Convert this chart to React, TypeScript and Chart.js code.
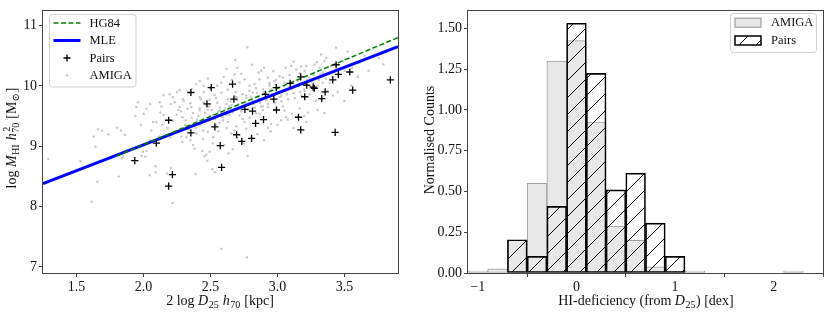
import React, { useEffect, useRef } from 'react';
import { Chart, registerables } from 'chart.js';

Chart.register(...registerables);

const FONT = "'Liberation Serif', 'DejaVu Serif', serif";
const TICK_SIZE = 14;
const LABEL_SIZE = 14;
const LEGEND_SIZE = 12.5;

// ---------------- Left panel data ----------------
const amigaPoints: [number, number][] = [
  [1.29, 8.79], [1.53, 8.75], [1.656, 8.41], [1.614, 8.08], [1.815, 8.5], [1.84, 8.8], [2.014, 8.83], [2.046, 8.52],
  [2.089, 8.67], [2.089, 8.57], [2.175, 8.55], [2.205, 8.64], [2.216, 8.06], [2.389, 8.54], [2.456, 8.83], [2.476, 8.76],
  [2.514, 8.62], [2.533, 8.57], [2.581, 7.3], [2.635, 8.88], [2.772, 7.16], [2.777, 8.84],
  [1.629, 9.16], [1.661, 9.28], [1.691, 9.26], [1.642, 8.99], [1.738, 9.2], [1.803, 9.31], [1.832, 9.26], [1.862, 9.19],
  [1.947, 9.65], [1.94, 9.5], [2.002, 9.54], [1.996, 8.91], [2.022, 8.92], [1.985, 8.84], [2.071, 9.4], [2.059, 9.26],
  [2.096, 9.4], [2.126, 9.56], [2.151, 9.52], [2.116, 9.16], [2.134, 9.66], [2.203, 9.7], [2.248, 9.52], [2.27, 9.65],
  [2.29, 9.48], [2.315, 9.43], [2.283, 9.16], [2.29, 9.07], [2.382, 8.96], [2.37, 9.02], [2.394, 9.21], [2.444, 9.12],
  [2.419, 9.59], [2.357, 9.65], [1.847, 8.83],
  [2.439, 8.92], [2.469, 8.86], [2.494, 8.91], [2.667, 8.95], [2.605, 9.02], [2.518, 9.05], [2.481, 9.24], [2.444, 9.26],
  [2.593, 9.43], [2.568, 9.39], [2.63, 9.4], [2.68, 9.26], [2.693, 9.33], [2.655, 9.21], [2.767, 9.29], [2.755, 9.4],
  [2.792, 9.47], [2.866, 9.54], [2.928, 9.3], [2.953, 9.37], [3.028, 9.43], [3.077, 9.44], [3.065, 9.48], [3.11, 9.54],
  [3.165, 9.63], [3.227, 9.56], [3.215, 9.4], [2.568, 9.59], [2.618, 9.52], [2.667, 9.56], [2.717, 9.51], [2.729, 9.59],
  [2.531, 9.45], [2.494, 9.51], [2.419, 9.35], [2.456, 9.43], [2.928, 9.65], [2.978, 9.61], [2.891, 9.66], [3.053, 9.59],
  [3.438, 10.63], [3.525, 10.57], [3.756, 10.46], [3.791, 10.36], [3.326, 10.52], [3.364, 10.46], [3.351, 10.41], [3.294, 10.39],
  [3.276, 10.35], [3.215, 10.33], [3.177, 10.32], [3.314, 10.3], [3.401, 10.33], [3.487, 10.41], [3.5, 10.25], [3.239, 10.14],
  [3.338, 10.05], [3.375, 9.92], [3.202, 9.92], [3.239, 9.86], [3.289, 9.75], [3.413, 9.84], [3.5, 9.75], [3.202, 10.25],
  [3.165, 10.21],
  [2.775, 10.64], [2.685, 10.43], [2.68, 10.19], [2.879, 10.25], [2.928, 10.14], [3.015, 10.16], [3.103, 10.33], [3.14, 10.27],
  [2.866, 10.11], [2.829, 10.03], [2.792, 10.0], [2.755, 10.11], [2.717, 10.05], [2.63, 9.94], [2.581, 9.89], [2.531, 9.85],
  [2.494, 9.77], [2.449, 9.73], [2.419, 9.81], [2.767, 9.84], [2.817, 9.89], [2.854, 9.75], [2.891, 9.94], [2.693, 9.81],
  [3.028, 9.84], [3.053, 10.05], [2.978, 10.08], [2.941, 10.03],
  [2.121, 9.73], [2.195, 9.86], [2.27, 9.93], [2.294, 9.78], [2.394, 10.03], [2.233, 9.73], [1.959, 9.73], [2.022, 9.62], [2.22, 9.81],
  [2.31, 9.35], [2.28, 9.58], [2.33, 9.62], [2.3, 9.75], [2.34, 9.28], [2.36, 9.47], [2.37, 9.55], [2.35, 9.71], [2.38, 9.38],
  [2.41, 9.5], [2.42, 9.63], [2.4, 9.44], [2.43, 9.78], [2.39, 9.3], [2.46, 9.55], [2.47, 9.68], [2.44, 9.4], [2.48, 9.6],
  [2.45, 9.9], [2.51, 9.6], [2.52, 9.52], [2.5, 9.7], [2.53, 9.45], [2.49, 9.66], [2.54, 9.35], [2.56, 9.58], [2.57, 9.64],
  [2.55, 9.72], [2.58, 9.5], [2.54, 9.8], [2.61, 9.62], [2.62, 9.7], [2.6, 9.55], [2.63, 9.78], [2.59, 9.48], [2.64, 9.66],
  [2.66, 9.68], [2.67, 9.6], [2.65, 9.74], [2.68, 9.82], [2.64, 9.52], [2.71, 9.7], [2.72, 9.64], [2.7, 9.76], [2.73, 9.58],
  [2.69, 9.9], [2.74, 9.45], [2.76, 9.72], [2.77, 9.8], [2.75, 9.66], [2.78, 9.6], [2.74, 9.86], [2.81, 9.76], [2.82, 9.7],
  [2.8, 9.82], [2.83, 9.64], [2.79, 9.92], [2.84, 9.55], [2.86, 9.8], [2.87, 9.72], [2.85, 9.88], [2.88, 9.66], [2.84, 9.96],
  [2.91, 9.82], [2.92, 9.76], [2.9, 9.9], [2.93, 9.7], [2.89, 9.6], [2.94, 10.0], [2.96, 9.86], [2.97, 9.78], [2.95, 9.94],
  [2.98, 9.72], [2.94, 10.05], [3.01, 9.9], [3.02, 9.82], [3.0, 9.98], [3.03, 9.74], [2.99, 10.1], [3.04, 9.66], [3.06, 9.92],
  [3.07, 9.86], [3.05, 10.0], [3.08, 9.78], [3.04, 10.14], [3.11, 9.96], [3.12, 9.88], [3.1, 10.04], [3.13, 9.8], [3.09, 10.18],
  [3.16, 10.0], [3.17, 9.9], [3.15, 10.08], [3.18, 9.84], [3.21, 10.02], [3.22, 10.1], [3.2, 9.95], [3.26, 10.06], [3.27, 10.18],
  [3.25, 9.98], [3.31, 10.1], [3.32, 10.2], [3.3, 10.0], [3.36, 10.12], [3.34, 10.22], [3.41, 10.15], [3.39, 10.05], [3.46, 10.2],
  [3.56, 10.3], [3.61, 10.38],
  [2.18, 9.3], [2.22, 9.42], [2.25, 9.25], [2.14, 9.35], [2.2, 9.15], [2.26, 9.6], [2.32, 9.15], [2.35, 9.1], [2.1, 9.05], [2.05, 9.1],
  [2.36, 9.95], [2.42, 10.08], [2.48, 10.12], [2.55, 10.0], [2.6, 10.15], [2.62, 10.28], [2.7, 10.3], [2.73, 10.2], [2.58, 10.05],
  [2.66, 10.1], [2.81, 10.35], [2.86, 10.22], [2.9, 10.3], [2.97, 10.24], [3.06, 10.3], [3.12, 10.4], [2.5, 9.95], [2.45, 10.0],
  [2.62, 9.3], [2.7, 9.15], [2.85, 9.2], [2.95, 9.25], [3.0, 9.35], [3.12, 9.3], [3.2, 9.5], [3.3, 9.6], [3.35, 9.55], [3.45, 9.9],
  [3.55, 10.0], [3.6, 10.15], [3.68, 10.25], [3.65, 10.5], [2.75, 9.05], [2.9, 9.1], [2.52, 9.15], [2.56, 9.25], [2.25, 9.9],
  [2.15, 9.85], [2.05, 9.7], [1.98, 9.35],
];

const pairsPoints: [number, number][] = [
  [1.935, 8.76], [2.096, 9.05], [2.188, 9.43], [2.354, 9.89], [2.354, 9.22], [2.474, 9.7], [2.506, 9.97], [2.533, 9.32],
  [2.573, 9.01], [2.665, 10.03], [2.675, 9.78], [2.695, 9.19], [2.734, 9.08], [2.757, 9.61], [2.807, 9.13], [2.814, 9.58],
  [2.837, 9.38], [2.896, 9.44], [2.911, 9.86], [2.973, 9.78], [2.991, 9.97], [2.993, 9.6], [3.095, 10.04], [3.157, 9.48],
  [3.174, 10.15], [3.174, 9.27], [3.204, 9.82], [3.219, 10.01], [3.267, 9.98], [3.275, 9.96], [3.331, 9.79], [3.356, 9.9],
  [3.413, 10.1], [3.431, 9.23], [3.438, 10.35], [3.455, 10.19], [3.54, 10.23], [3.562, 9.93], [3.843, 10.1],
  [2.216, 8.53], [2.188, 8.34], [2.583, 8.65],
];

const mleX = [1.25, 3.9];
const mleY = [8.38, 10.65];
const hg84X = [1.8, 3.9];
const hg84Y = [8.84, 10.8];

const leftXRange = [1.25, 3.9];
const leftYRange = [6.9, 11.25];
const leftXTicks = [1.5, 2.0, 2.5, 3.0, 3.5];
const leftYTicks = [7, 8, 9, 10, 11];

// ---------------- Right panel data ----------------
const amigaCenters = [-1.0, -0.8, -0.6, -0.4, -0.2, 0.0, 0.2, 0.4, 0.6, 0.8, 1.0, 1.2, 2.2];
const amigaHist = [0.0125, 0.025, 0.2, 0.55, 1.3, 1.425, 0.925, 0.2875, 0.2, 0.0375, 0.0125, 0.0125, 0.0125];
const pairsCenters = [-0.6, -0.4, -0.2, 0.0, 0.2, 0.4, 0.6, 0.8, 1.0];
const pairsHist = [0.204, 0.102, 0.408, 1.531, 1.224, 0.51, 0.612, 0.306, 0.102];

const rightXRange = [-1.1, 2.5];
const rightYRange = [0, 1.61];
const rightXTicks = [-1, 0, 1, 2];
const rightYTicks = [0, 0.25, 0.5, 0.75, 1.0, 1.25, 1.5];

// ---------------- helpers ----------------
type Part = { t: string; it?: boolean; sub?: string; sup?: string };

const fontStr = (size: number, it?: boolean) => `${it ? 'italic ' : ''}${size}px ${FONT}`;

function drawRich(ctx: CanvasRenderingContext2D, parts: Part[], cx: number, cy: number, vertical: boolean, size: number) {
  const ss = size * 0.72;
  ctx.save();
  ctx.translate(cx, cy);
  if (vertical) ctx.rotate(-Math.PI / 2);
  ctx.fillStyle = '#111';
  ctx.textBaseline = 'alphabetic';
  ctx.textAlign = 'left';
  const widths = parts.map((p) => {
    ctx.font = fontStr(size, p.it);
    const w = ctx.measureText(p.t).width;
    ctx.font = fontStr(ss);
    const ws = Math.max(p.sub ? ctx.measureText(p.sub).width : 0, p.sup ? ctx.measureText(p.sup).width : 0);
    return [w, ws];
  });
  const total = widths.reduce((a, [w, ws]) => a + w + (ws ? ws + 1 : 0), 0);
  let x = -total / 2;
  const y = size * 0.33;
  parts.forEach((p, i) => {
    const [w, ws] = widths[i];
    ctx.font = fontStr(size, p.it);
    ctx.fillText(p.t, x, y);
    x += w;
    if (ws) {
      ctx.font = fontStr(ss);
      const xo = x + (p.it ? 0.5 : 0);
      if (p.sub) ctx.fillText(p.sub, xo, y + size * 0.22);
      if (p.sup) ctx.fillText(p.sup, xo + 1, y - size * 0.42);
      x += ws + 1;
    }
  });
  ctx.restore();
}

function makeAxis(range: number[], ticks: number[], fmt: (v: number) => string, isX: boolean, size: number) {
  return {
    type: 'linear' as const,
    min: range[0],
    max: range[1],
    afterBuildTicks: (s: any) => {
      s.ticks = ticks.map((v) => ({ value: v }));
    },
    afterFit: (s: any) => {
      if (isX) s.height = size;
      else s.width = size;
    },
    grid: { drawOnChartArea: false, drawTicks: true, tickLength: 4, color: '#444', lineWidth: 1 },
    border: { display: false },
    ticks: {
      font: { family: FONT, size: TICK_SIZE },
      color: '#111',
      padding: 2,
      maxRotation: 0,
      autoSkip: false,
      callback: (v: any) => fmt(Number(v)),
    },
  };
}

const framePlugin = {
  id: 'frame',
  afterDatasetsDraw(chart: any) {
    const { ctx, chartArea: a } = chart;
    ctx.save();
    ctx.strokeStyle = '#444';
    ctx.lineWidth = 1;
    const l = Math.round(a.left) - 0.5;
    const t = Math.round(a.top) + 0.5;
    const r = Math.round(a.right) + 0.5;
    const b = Math.round(a.bottom) + 0.5;
    ctx.strokeRect(l, t, r - l, b - t);
    ctx.restore();
  },
};

function roundRect(ctx: CanvasRenderingContext2D, x: number, y: number, w: number, h: number, r: number) {
  ctx.beginPath();
  ctx.moveTo(x + r, y);
  ctx.lineTo(x + w - r, y);
  ctx.arcTo(x + w, y, x + w, y + r, r);
  ctx.lineTo(x + w, y + h - r);
  ctx.arcTo(x + w, y + h, x + w - r, y + h, r);
  ctx.lineTo(x + r, y + h);
  ctx.arcTo(x, y + h, x, y + h - r, r);
  ctx.lineTo(x, y + r);
  ctx.arcTo(x, y, x + r, y, r);
  ctx.closePath();
}

function legendFrame(ctx: CanvasRenderingContext2D, x: number, y: number, w: number, h: number) {
  roundRect(ctx, x, y, w, h, 3);
  ctx.fillStyle = 'rgba(255,255,255,0.85)';
  ctx.fill();
  ctx.strokeStyle = '#d0d0d0';
  ctx.lineWidth = 1;
  ctx.stroke();
}

function legendText(ctx: CanvasRenderingContext2D, t: string, x: number, y: number) {
  ctx.font = fontStr(LEGEND_SIZE);
  ctx.fillStyle = '#111';
  ctx.textBaseline = 'middle';
  ctx.textAlign = 'left';
  ctx.fillText(t, x, y + 0.5);
}

function makeHatch(ctx: CanvasRenderingContext2D) {
  const s = 17;
  const c = document.createElement('canvas');
  c.width = s;
  c.height = s;
  const g = c.getContext('2d')!;
  g.strokeStyle = '#000';
  g.lineWidth = 1;
  g.beginPath();
  g.moveTo(-2, s + 2);
  g.lineTo(s + 2, -2);
  g.stroke();
  g.beginPath();
  g.moveTo(-2, 2);
  g.lineTo(2, -2);
  g.stroke();
  g.beginPath();
  g.moveTo(s - 2, s + 2);
  g.lineTo(s + 2, s - 2);
  g.stroke();
  return ctx.createPattern(c, 'repeat')!;
}

export default function App() {
  const leftRef = useRef<HTMLCanvasElement>(null);
  const rightRef = useRef<HTMLCanvasElement>(null);

  useEffect(() => {
    const charts: Chart[] = [];

    // ---------- Left chart ----------
    const lc = leftRef.current!;
    const leftLabels = {
      id: 'leftLabels',
      afterDraw(chart: any) {
        const ctx = chart.ctx as CanvasRenderingContext2D;
        drawRich(ctx, [{ t: '2 log ' }, { t: 'D', it: true, sub: '25' }, { t: ' ' }, { t: 'h', it: true, sub: '70' }, { t: ' [kpc]' }], 220, 300, false, LABEL_SIZE);
        drawRich(ctx, [{ t: 'log ' }, { t: 'M', it: true, sub: 'HI' }, { t: ' ' }, { t: 'h', it: true, sup: '2', sub: '70' }, { t: ' [M', sub: '\u2299' }, { t: ']' }], 11, 138, true, LABEL_SIZE);
        // legend
        ctx.save();
        legendFrame(ctx, 49.5, 14.5, 86.5, 72.5);
        const hx0 = 53.5, hx1 = 80.5, tx = 89.5;
        const rows = [23, 40.5, 58, 75.5];
        ctx.strokeStyle = '#008000';
        ctx.lineWidth = 1.5;
        ctx.setLineDash([5, 2.5]);
        ctx.beginPath(); ctx.moveTo(hx0, rows[0]); ctx.lineTo(hx1, rows[0]); ctx.stroke();
        ctx.setLineDash([]);
        ctx.strokeStyle = '#0000ff';
        ctx.lineWidth = 3;
        ctx.beginPath(); ctx.moveTo(hx0, rows[1]); ctx.lineTo(hx1, rows[1]); ctx.stroke();
        ctx.strokeStyle = '#000';
        ctx.lineWidth = 1.3;
        const cx = (hx0 + hx1) / 2;
        ctx.beginPath(); ctx.moveTo(cx - 3.5, rows[2]); ctx.lineTo(cx + 3.5, rows[2]); ctx.moveTo(cx, rows[2] - 3.5); ctx.lineTo(cx, rows[2] + 3.5); ctx.stroke();
        ctx.fillStyle = '#cccccc';
        ctx.beginPath(); ctx.arc(cx, rows[3], 1.3, 0, Math.PI * 2); ctx.fill();
        legendText(ctx, 'HG84', tx, rows[0]);
        legendText(ctx, 'MLE', tx, rows[1]);
        legendText(ctx, 'Pairs', tx, rows[2]);
        legendText(ctx, 'AMIGA', tx, rows[3]);
        ctx.restore();
      },
    };

    charts.push(
      new Chart(lc, {
        type: 'scatter',
        data: {
          datasets: [
            {
              label: 'Pairs',
              data: pairsPoints.map(([x, y]) => ({ x, y })),
              pointStyle: 'cross',
              radius: 3.6,
              borderColor: '#000',
              borderWidth: 1.3,
              order: 0,
            } as any,
            {
              label: 'HG84',
              data: hg84X.map((x, i) => ({ x, y: hg84Y[i] })),
              showLine: true,
              borderColor: '#008000',
              borderWidth: 1.5,
              borderDash: [5, 2.5],
              pointRadius: 0,
              order: 1,
            },
            {
              label: 'MLE',
              data: mleX.map((x, i) => ({ x, y: mleY[i] })),
              showLine: true,
              borderColor: '#0000ff',
              borderWidth: 3,
              pointRadius: 0,
              order: 2,
            },
            {
              label: 'AMIGA',
              data: amigaPoints.map(([x, y]) => ({ x, y })),
              pointRadius: 1.25,
              backgroundColor: '#c9c9c9',
              borderWidth: 0,
              order: 3,
            },
          ],
        },
        options: {
          responsive: false,
          maintainAspectRatio: false,
          animation: false,
          devicePixelRatio: 1,
          layout: { padding: { left: 0, right: 12, top: 7, bottom: 0 } },
          plugins: { legend: { display: false }, tooltip: { enabled: false } },
          scales: {
            x: makeAxis(leftXRange, leftXTicks, (v) => v.toFixed(1), true, 42),
            y: makeAxis(leftYRange, leftYTicks, (v) => String(v), false, 43),
          },
        },
        plugins: [framePlugin, leftLabels],
      } as any)
    );

    // ---------- Right chart ----------
    const rc = rightRef.current!;
    const hatch = makeHatch(rc.getContext('2d')!);
    const rightLabels = {
      id: 'rightLabels',
      afterDraw(chart: any) {
        const ctx = chart.ctx as CanvasRenderingContext2D;
        drawRich(ctx, [{ t: 'HI-deficiency (from ' }, { t: 'D', it: true, sub: '25' }, { t: ') [dex]' }], 236, 300, false, LABEL_SIZE);
        drawRich(ctx, [{ t: 'Normalised Counts' }], 19, 140, true, LABEL_SIZE);
        ctx.save();
        legendFrame(ctx, 320.5, 13.5, 86, 39);
        const px = 325, pw = 26, ph = 9, tx = 361;
        const rows = [22.7, 40.5];
        ctx.fillStyle = '#e8e8e8';
        ctx.fillRect(px, rows[0] - ph / 2, pw, ph);
        ctx.strokeStyle = '#a0a0a0';
        ctx.lineWidth = 1.2;
        ctx.strokeRect(px, rows[0] - ph / 2, pw, ph);
        ctx.fillStyle = hatch;
        ctx.fillRect(px, rows[1] - ph / 2, pw, ph);
        ctx.strokeStyle = '#000';
        ctx.lineWidth = 1.5;
        ctx.strokeRect(px, rows[1] - ph / 2, pw, ph);
        legendText(ctx, 'AMIGA', tx, rows[0]);
        legendText(ctx, 'Pairs', tx, rows[1]);
        ctx.restore();
      },
    };

    charts.push(
      new Chart(rc, {
        type: 'bar',
        data: {
          datasets: [
            {
              label: 'Pairs',
              data: pairsCenters.map((x, i) => ({ x, y: pairsHist[i] })),
              backgroundColor: hatch,
              borderColor: '#000',
              borderWidth: 1,
              borderSkipped: false,
              grouped: false,
              barPercentage: 1,
              categoryPercentage: 1,
              order: 0,
            },
            {
              label: 'AMIGA',
              data: amigaCenters.map((x, i) => ({ x, y: amigaHist[i] })),
              backgroundColor: '#e8e8e8',
              borderColor: '#a0a0a0',
              borderWidth: 1,
              borderSkipped: false,
              grouped: false,
              barPercentage: 1,
              categoryPercentage: 1,
              order: 1,
            },
          ],
        },
        options: {
          responsive: false,
          maintainAspectRatio: false,
          animation: false,
          devicePixelRatio: 1,
          layout: { padding: { left: 0, right: 8, top: 7, bottom: 0 } },
          plugins: { legend: { display: false }, tooltip: { enabled: false } },
          scales: {
            x: { ...makeAxis(rightXRange, rightXTicks, (v) => (v < 0 ? '\u2212' + Math.abs(v) : String(v)), true, 42), offset: false },
            y: makeAxis(rightYRange, rightYTicks, (v) => v.toFixed(2), false, 58),
          },
        },
        plugins: [framePlugin, rightLabels],
      } as any)
    );

    return () => charts.forEach((c) => c.destroy());
  }, []);

  return (
    <div style={{ position: 'absolute', left: 0, top: 0, width: 831, height: 315, background: '#fff' }}>
      <canvas ref={leftRef} width={410} height={315} style={{ position: 'absolute', left: 0, top: 0, width: 410, height: 315 }} />
      <canvas ref={rightRef} width={421} height={315} style={{ position: 'absolute', left: 410, top: 0, width: 421, height: 315 }} />
    </div>
  );
}
